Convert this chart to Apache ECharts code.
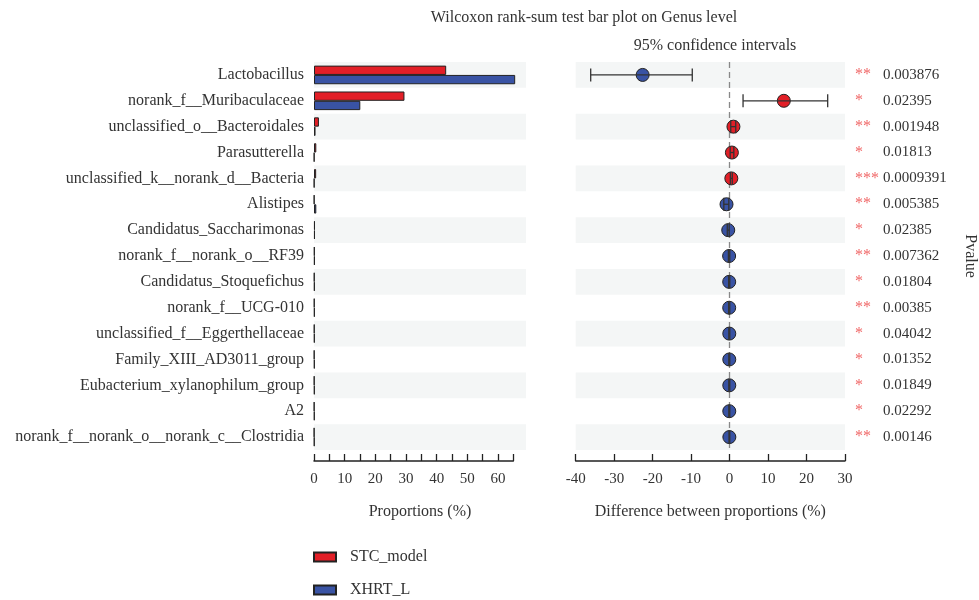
<!DOCTYPE html>
<html>
<head>
<meta charset="utf-8">
<script src="https://cdn.jsdelivr.net/npm/echarts@6/dist/echarts.min.js"></script>
<style>
  html, body { margin: 0; padding: 0; background: #fff; }
  #chart { width: 979px; height: 600px; }
</style>
</head>
<body>
<div id="chart"></div>
<script>
// Genera, top to bottom
const genera = [
  'Lactobacillus',
  'norank_f__Muribaculaceae',
  'unclassified_o__Bacteroidales',
  'Parasutterella',
  'unclassified_k__norank_d__Bacteria',
  'Alistipes',
  'Candidatus_Saccharimonas',
  'norank_f__norank_o__RF39',
  'Candidatus_Stoquefichus',
  'norank_f__UCG-010',
  'unclassified_f__Eggerthellaceae',
  'Family_XIII_AD3011_group',
  'Eubacterium_xylanophilum_group',
  'A2',
  'norank_f__norank_o__norank_c__Clostridia'
];
const groupNames = ['STC_model', 'XHRT_L'];

// Mean proportions (%) per group
const stcModel = [43.1, 29.5, 1.6, 0.75, 0.7, 0.1, 0.3, 0.2, 0.15, 0.15, 0.15, 0.12, 0.12, 0.1, 0.08];
const xhrtL    = [65.6, 15.1, 0.5, 0.1, 0.1, 0.75, 0.3, 0.25, 0.22, 0.22, 0.2, 0.2, 0.2, 0.18, 0.15];

// Difference between proportions (%) with 95% confidence intervals
const diffMean = [-22.6, 14.1, 1.0, 0.6, 0.45, -0.8, -0.35, -0.12, -0.1, -0.1, -0.08, -0.08, -0.08, -0.08, -0.06];
const ciLow    = [-36.1, 3.5, 0.3, 0.15, 0.2, -1.5, -0.6, -0.3, -0.25, -0.25, -0.2, -0.2, -0.2, -0.2, -0.15];
const ciHigh   = [-9.7, 25.5, 1.6, 1.1, 0.7, -0.2, -0.1, 0.05, 0.05, 0.05, 0.05, 0.05, 0.05, 0.05, 0.05];

// Wilcoxon rank-sum p-values
const pValues = ['0.003876', '0.02395', '0.001948', '0.01813', '0.0009391', '0.005385', '0.02385',
                 '0.007362', '0.01804', '0.00385', '0.04042', '0.01352', '0.01849', '0.02292', '0.00146'];

// Axis ranges
const propAxis = { min: 0, max: 65, interval: 5, labelStep: 10 };
const diffAxis = { min: -40, max: 30, interval: 10 };

const RED = '#e21f27';
const BLUE = '#3953a4';
const EDGE = '#222';
const STRIPE = '#f4f6f6';
const FONT = '"Liberation Serif", "DejaVu Serif", serif';
const TXT = '#333';

function stars(p) {
  const v = parseFloat(p);
  return v < 0.001 ? '***' : v < 0.01 ? '**' : v < 0.05 ? '*' : '';
}

// pixel layout
const plotTop = 62, plotH = 388;
const leftX = 314, pxPerUnit = 3.0667;
const leftBgW = 212;                         // striped panel width
const leftAxisW = propAxis.max * pxPerUnit;  // visible axis width
const rightX = 575.7, rightW = 269.3;

const chart = echarts.init(document.getElementById('chart'));

const option = {
  animation: false,
  textStyle: { fontFamily: FONT },
  title: [
    {
      text: 'Wilcoxon rank-sum test bar plot on Genus level',
      left: 579, top: 5, textAlign: 'center',
      textStyle: { fontFamily: FONT, fontSize: 16, fontWeight: 'normal', color: TXT }
    },
    {
      text: '95% confidence intervals',
      left: 710, top: 33, textAlign: 'center',
      textStyle: { fontFamily: FONT, fontSize: 16, fontWeight: 'normal', color: TXT }
    }
  ],
  legend: {
    orient: 'vertical',
    left: 313, top: 549, padding: 0,
    itemWidth: 22, itemHeight: 9, itemGap: 17,
    icon: 'rect',
    data: groupNames,
    textStyle: { fontFamily: FONT, fontSize: 16, color: TXT, padding: [0, 0, 0, 9] }
  },
  grid: [
    { left: leftX, top: plotTop, width: leftBgW, height: plotH },
    { left: leftX, top: plotTop, width: leftAxisW, height: plotH },
    { left: rightX, top: plotTop, width: rightW, height: plotH }
  ],
  xAxis: [
    {
      gridIndex: 0, type: 'value', min: 0, max: leftBgW / pxPerUnit,
      axisLine: { show: false }, axisTick: { show: false }, axisLabel: { show: false },
      splitLine: { show: false },
      name: 'Proportions (%)', nameLocation: 'middle', nameGap: 54,
      nameTextStyle: { fontFamily: FONT, fontSize: 16, color: TXT }
    },
    {
      gridIndex: 1, type: 'value', min: propAxis.min, max: propAxis.max, interval: propAxis.interval,
      offset: 11,
      axisLine: { show: true, lineStyle: { color: EDGE, width: 1.5 } },
      axisTick: { show: true, inside: true, length: 7, lineStyle: { color: EDGE, width: 1.3 } },
      axisLabel: {
        margin: 11, fontFamily: FONT, fontSize: 15, color: TXT,
        formatter: v => (v % propAxis.labelStep === 0 ? String(v) : '')
      },
      splitLine: { show: false }
    },
    {
      gridIndex: 2, type: 'value', min: diffAxis.min, max: diffAxis.max, interval: diffAxis.interval,
      offset: 11,
      axisLine: { show: true, lineStyle: { color: EDGE, width: 1.5 } },
      axisTick: { show: true, inside: true, length: 7, lineStyle: { color: EDGE, width: 1.3 } },
      axisLabel: { margin: 11, fontFamily: FONT, fontSize: 15, color: TXT },
      splitLine: { show: false },
      name: 'Difference between proportions (%)', nameLocation: 'middle', nameGap: 43,
      nameTextStyle: { fontFamily: FONT, fontSize: 16, color: TXT }
    }
  ],
  yAxis: [
    {
      gridIndex: 0, type: 'category', data: genera, inverse: true,
      axisLine: { show: false }, axisTick: { show: false },
      axisLabel: { margin: 10, fontFamily: FONT, fontSize: 16, color: TXT },
      splitArea: { show: true, areaStyle: { color: [STRIPE, 'rgba(255,255,255,0)'] } }
    },
    {
      gridIndex: 1, type: 'category', data: genera, inverse: true, show: false
    },
    {
      gridIndex: 2, type: 'category', data: genera, inverse: true,
      axisLine: { show: false }, axisTick: { show: false }, axisLabel: { show: false },
      splitArea: { show: true, areaStyle: { color: [STRIPE, 'rgba(255,255,255,0)'] } }
    },
    {
      gridIndex: 2, type: 'category', data: genera, inverse: true, position: 'right',
      axisLine: { show: false }, axisTick: { show: false },
      axisLabel: {
        margin: 10, align: 'left',
        formatter: (val, idx) => '{s|' + stars(pValues[idx]) + '}{p|' + pValues[idx] + '}',
        rich: {
          s: { width: 28, fontFamily: FONT, fontSize: 16, color: '#f06868' },
          p: { fontFamily: FONT, fontSize: 15, color: TXT }
        }
      },
      name: 'Pvalue', nameLocation: 'middle', nameRotate: -90, nameGap: 117,
      nameTextStyle: { fontFamily: FONT, fontSize: 16, color: TXT }
    }
  ],
  series: [
    {
      name: groupNames[0], type: 'bar', xAxisIndex: 0, yAxisIndex: 0,
      data: stcModel, barGap: '0%', barCategoryGap: '28%',
      itemStyle: { color: RED, borderColor: EDGE, borderWidth: 1 }
    },
    {
      name: groupNames[1], type: 'bar', xAxisIndex: 0, yAxisIndex: 0,
      data: xhrtL, barGap: '0%', barCategoryGap: '28%',
      itemStyle: { color: BLUE, borderColor: EDGE, borderWidth: 1 }
    },
    {
      name: 'difference', type: 'scatter', xAxisIndex: 2, yAxisIndex: 2,
      symbol: 'circle', symbolSize: 13, z: 3,
      data: diffMean.map((d, i) => ({
        value: [d, i],
        itemStyle: { color: d >= 0 ? RED : BLUE, borderColor: EDGE, borderWidth: 1, opacity: 1 }
      })),
      markLine: {
        silent: true, symbol: 'none', z: 2,
        label: { show: false },
        lineStyle: { color: '#888', type: [6, 4], width: 1.3 },
        data: [{ xAxis: 0 }]
      }
    },
    {
      name: 'ci', type: 'custom', xAxisIndex: 2, yAxisIndex: 2, z: 4,
      data: ciLow.map((lo, i) => [lo, ciHigh[i], i]),
      encode: { x: [0, 1], y: 2 },
      renderItem: (params, api) => {
        const a = api.coord([api.value(0), api.value(2)]);
        const b = api.coord([api.value(1), api.value(2)]);
        const cap = 6.5;
        const style = { stroke: '#333', lineWidth: 1.3 };
        return {
          type: 'group',
          children: [
            { type: 'line', shape: { x1: a[0], y1: a[1], x2: b[0], y2: b[1] }, style },
            { type: 'line', shape: { x1: a[0], y1: a[1] - cap, x2: a[0], y2: a[1] + cap }, style },
            { type: 'line', shape: { x1: b[0], y1: b[1] - cap, x2: b[0], y2: b[1] + cap }, style }
          ]
        };
      }
    }
  ]
};

chart.setOption(option);
</script>
</body>
</html>
